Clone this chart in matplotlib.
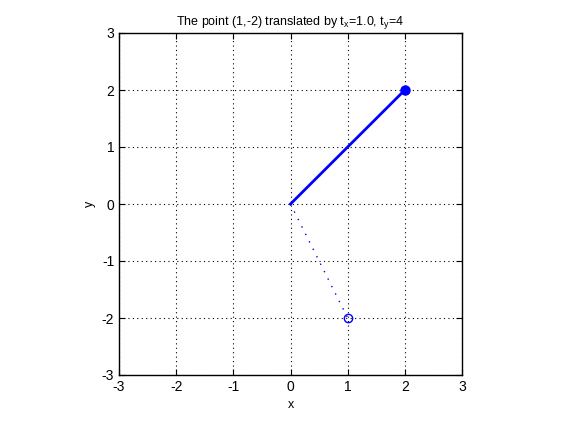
import matplotlib
matplotlib.use("Agg")
import matplotlib.pyplot as plt

# original point and translation
point = (1, -2)
tx, ty = 1.0, 4
moved = (point[0] + tx, point[1] + ty)
ticks = [-3, -2, -1, 0, 1, 2, 3]

plt.rcParams["font.family"] = ["Liberation Sans", "DejaVu Sans"]
plt.rcParams["mathtext.fontset"] = "custom"
plt.rcParams["mathtext.rm"] = "Liberation Sans"
plt.rcParams["mathtext.it"] = "Liberation Sans"
plt.rcParams["axes.unicode_minus"] = False

fig = plt.figure(figsize=(5.62, 4.22), dpi=100)
ax = fig.add_axes([119 / 562, 1 - 375 / 422, 343 / 562, 342 / 422])

# original vector (dotted) and translated vector (solid)
ax.plot([0, point[0]], [0, point[1]], color="blue", linestyle=(0, (1, 5)), linewidth=1)
ax.plot(point[0], point[1], "o", mfc="none", mec="blue", ms=6, mew=1)
ax.plot([0, moved[0]], [0, moved[1]], color="blue", linewidth=2)
ax.plot(moved[0], moved[1], "o", color="blue", ms=6.5)

ax.set_xlim(-3, 3)
ax.set_ylim(-3, 3)
ax.set_xticks(ticks)
ax.set_yticks(ticks)
ax.grid(True, color="black", linestyle=(0, (1, 3)), linewidth=0.8)
ax.tick_params(direction="in", labelsize=10, top=True, right=True, length=4)
for s in ax.spines.values():
    s.set_linewidth(1)

ax.set_xlabel("x", fontsize=9)
ax.set_ylabel("y", fontsize=9)
ax.set_title(r"The point (1,-2) translated by t$_\mathrm{x}$=1.0, t$_\mathrm{y}$=4", fontsize=9)

fig.savefig("out.png", dpi=100)
